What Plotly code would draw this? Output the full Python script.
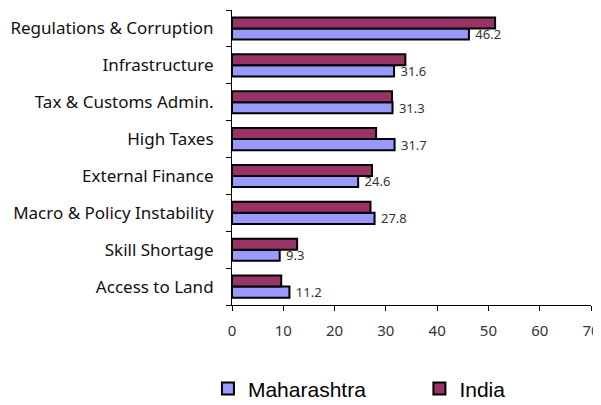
import plotly.graph_objects as go

categories = ["Regulations & Corruption", "Infrastructure", "Tax & Customs Admin.",
              "High Taxes", "External Finance", "Macro & Policy Instability",
              "Skill Shortage", "Access to Land"]
maharashtra = [46.2, 31.6, 31.3, 31.7, 24.6, 27.8, 9.3, 11.2]
india = [51.3, 33.8, 31.2, 28.1, 27.3, 27.0, 12.7, 9.6]
x_ticks = [0, 10, 20, 30, 40, 50, 60, 70]

fig = go.Figure()
fig.add_trace(go.Bar(
    y=categories, x=maharashtra, orientation="h", name="Maharashtra",
    marker=dict(color="#9999FF", line=dict(color="#000000", width=2)),
    text=["\u00a0" + f"{v:.1f}" for v in maharashtra], textposition="outside",
    constraintext="none",
    textfont=dict(family="Noto Sans", size=13, color="#333333"),
    cliponaxis=False, legend="legend",
))
fig.add_trace(go.Bar(
    y=categories, x=india, orientation="h", name="India",
    marker=dict(color="#993366", line=dict(color="#000000", width=2)),
    legend="legend2",
))

legend_font = dict(family="Liberation Sans", size=21, color="#000000")
fig.update_layout(
    width=593, height=397,
    margin=dict(l=224, r=10, t=2, b=100, autoexpand=False),
    paper_bgcolor="white", plot_bgcolor="white",
    barmode="group", bargap=0.4, bargroupgap=0,
    showlegend=True,
    legend=dict(orientation="h", x=-0.067, xanchor="left", y=-0.215, yanchor="top",
                font=legend_font),
    legend2=dict(orientation="h", x=0.522, xanchor="left", y=-0.215, yanchor="top",
                 font=legend_font),
    xaxis=dict(range=[0, 70], tickvals=x_ticks, showgrid=False, zeroline=False,
               showline=True, linecolor="#000000", linewidth=1,
               ticks="outside", ticklen=5, tickcolor="#000000",
               tickfont=dict(family="Noto Sans", size=15, color="#333333"),
               ticklabelstandoff=7, automargin=False),
    yaxis=dict(categoryorder="array", categoryarray=categories[::-1],
               showgrid=False, zeroline=False, showline=True,
               linecolor="#000000", linewidth=1, ticks="outside", ticklen=5,
               tickcolor="#000000", tickson="boundaries",
               tickfont=dict(family="Noto Sans", size=17, color="#111111"),
               ticklabelstandoff=14, automargin=False),
)

fig.write_html("out.html")
